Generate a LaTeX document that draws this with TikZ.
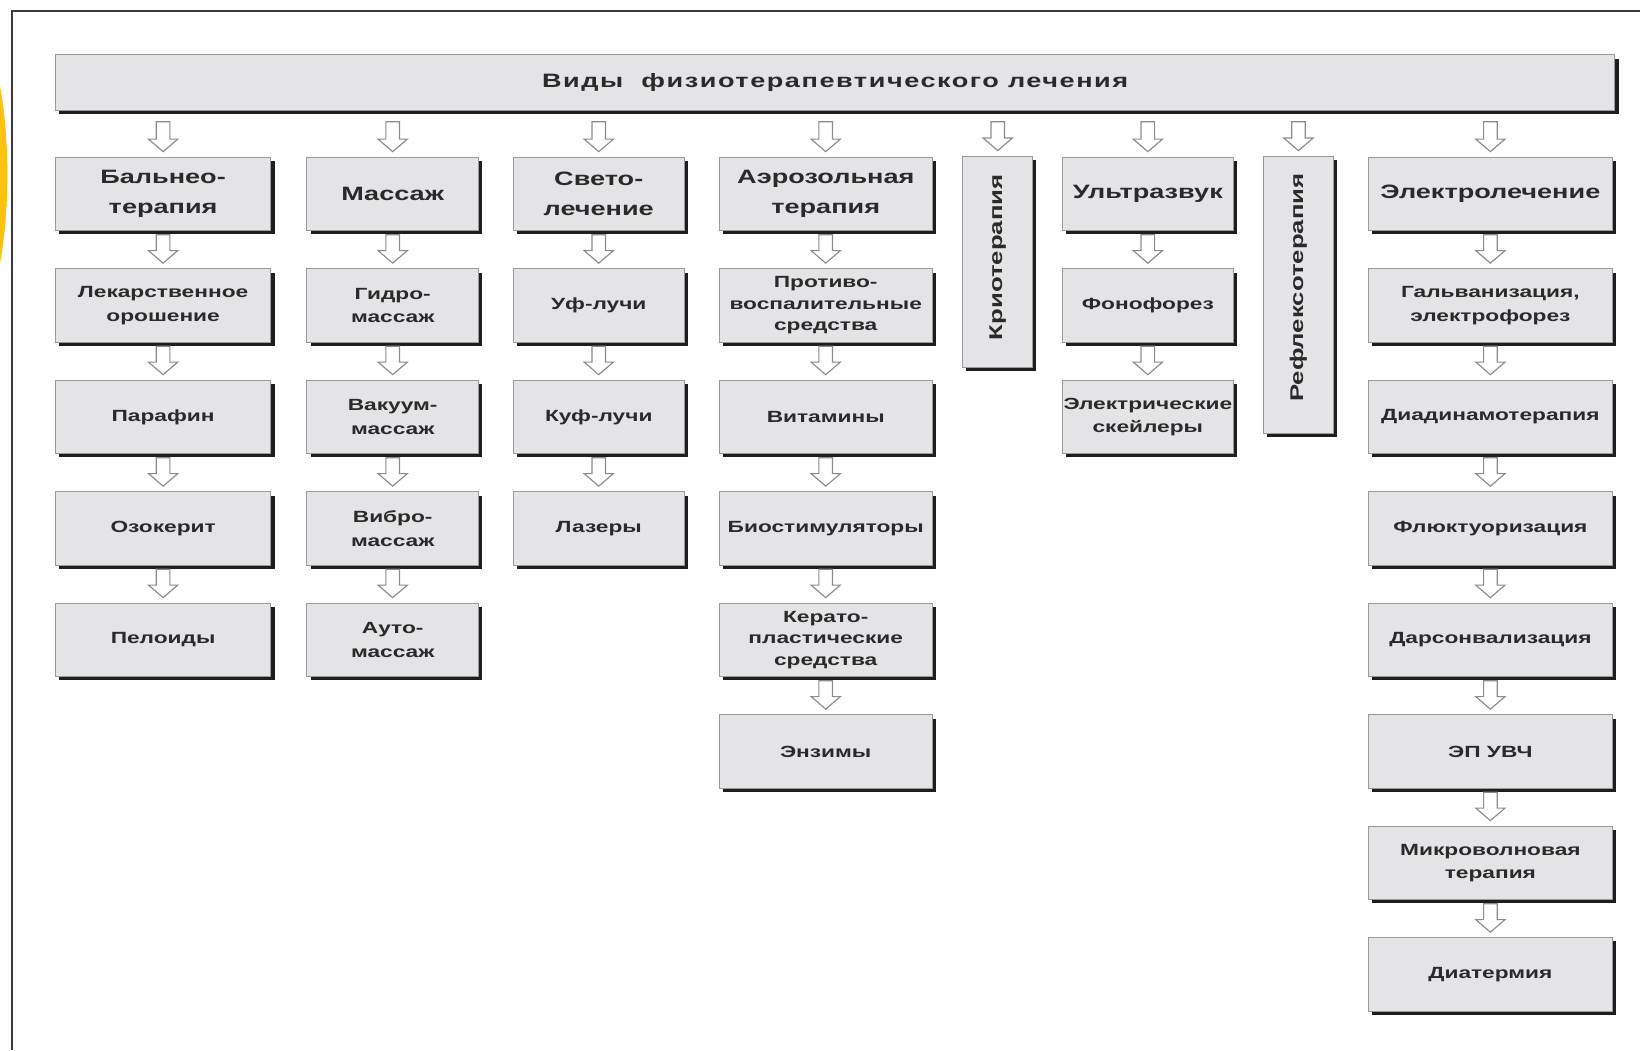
\documentclass[tikz,border=0pt]{standalone}
\usepackage{fontspec}
\setmainfont{Liberation Sans}[FakeStretch=1.4]
\usetikzlibrary{calc,shadows}
\definecolor{boxfill}{HTML}{E4E4E6}
\definecolor{boxline}{HTML}{9A9A9A}
\definecolor{shad}{HTML}{1E1E1E}
\definecolor{txt}{HTML}{2A2A2A}
\definecolor{arrline}{HTML}{8C8C8C}
\definecolor{framecol}{HTML}{3A3A3A}
\definecolor{gold}{HTML}{FFC20E}
\newcommand\lone{\fontsize{18.5}{28}\selectfont\bfseries}
\newcommand\lvert{\fontsize{17.6}{20}\selectfont\bfseries}
\newcommand\ltwo{\fontsize{15.5}{22.5}\selectfont\bfseries}
\newcommand\lthree{\fontsize{15.5}{20.5}\selectfont\bfseries}
\newcommand\lhead{\fontsize{18.5}{22}\selectfont\bfseries\addfontfeature{LetterSpace=8}}
% block arrow: [top gap]{from}{to}
\newcommand\barrow[3][3.5]{%
  \path[draw=arrline, fill=white, line width=1.1pt, line join=miter]
    let \p1=(#3.north), \p2=(#2.south) in
    (\x1-6.5pt,\y2-#1pt) -- (\x1+6.5pt,\y2-#1pt) -- (\x1+6.5pt,\y1+17pt)
    -- (\x1+14pt,\y1+17pt) -- (\x1,\y1+5pt) -- (\x1-14pt,\y1+17pt)
    -- (\x1-6.5pt,\y1+17pt) -- cycle;}
\begin{document}
\begin{tikzpicture}[x=1pt,y=1pt,
  box/.style={draw=boxline, line width=0.9pt, fill=boxfill, inner sep=0pt,
    align=center, text=txt, anchor=north west, minimum height=70pt,
    drop shadow={opacity=1, fill=shad, shadow xshift=3.5pt, shadow yshift=-3.5pt}},
  topbox/.style={box, font=\lone},
  subbox/.style={box, font=\ltwo},
  subthree/.style={box, font=\lthree}]
\useasboundingbox (0,0) rectangle (1568,-1004);
\fill[white] (0,0) rectangle (1568,-1004);
\fill[gold] (-22,-167) ellipse [x radius=29, y radius=130];
\draw[framecol, line width=2pt] (11.5,-1004) -- (11.5,-10.5) -- (1568,-10.5);

% header
\node[box, minimum width=1491pt, minimum height=53pt, font=\lhead] (h) at (52.5,-52) {Виды\ \ физиотерапевтического лечения};

% column 1
\node[topbox, minimum width=206pt] (a1) at (52.5,-150) {Бальнео-\\терапия};
\node[subbox, minimum width=206pt] (a2) at (52.5,-256.6) {Лекарственное\\орошение};
\node[subbox, minimum width=206pt] (a3) at (52.5,-363.2) {Парафин};
\node[subbox, minimum width=206pt] (a4) at (52.5,-469.8) {Озокерит};
\node[subbox, minimum width=206pt] (a5) at (52.5,-576.4) {Пелоиды};
% column 2
\node[topbox, minimum width=164pt] (b1) at (293,-150) {Массаж};
\node[subbox, minimum width=164pt] (b2) at (293,-256.6) {Гидро-\\массаж};
\node[subbox, minimum width=164pt] (b3) at (293,-363.2) {Вакуум-\\массаж};
\node[subbox, minimum width=164pt] (b4) at (293,-469.8) {Вибро-\\массаж};
\node[subbox, minimum width=164pt] (b5) at (293,-576.4) {Ауто-\\массаж};
% column 3
\node[topbox, minimum width=164pt] (c1) at (490,-150) {Свето-\\лечение};
\node[subbox, minimum width=164pt] (c2) at (490,-256.6) {Уф-лучи};
\node[subbox, minimum width=164pt] (c3) at (490,-363.2) {Куф-лучи};
\node[subbox, minimum width=164pt] (c4) at (490,-469.8) {Лазеры};
% column 4
\node[topbox, minimum width=204pt] (d1) at (687,-150) {Аэрозольная\\терапия};
\node[subthree, minimum width=204pt] (d2) at (687,-256.6) {Противо-\\воспалительные\\средства};
\node[subbox, minimum width=204pt] (d3) at (687,-363.2) {Витамины};
\node[subbox, minimum width=204pt] (d4) at (687,-469.8) {Биостимуляторы};
\node[subthree, minimum width=204pt] (d5) at (687,-576.4) {Керато-\\пластические\\средства};
\node[subbox, minimum width=204pt] (d6) at (687,-683) {Энзимы};
% column 5
\node[box, minimum width=67pt, minimum height=202pt] (e1) at (920,-149) {\rotatebox{90}{\lvert\hspace*{9pt}Криотерапия}};
% column 6
\node[topbox, minimum width=164pt] (f1) at (1015,-150) {Ультразвук};
\node[subbox, minimum width=164pt] (f2) at (1015,-256.6) {Фонофорез};
\node[subbox, minimum width=164pt] (f3) at (1015,-363.2) {Электрические\\скейлеры};
% column 7
\node[box, minimum width=67pt, minimum height=265pt] (g1) at (1207.5,-149) {\rotatebox{90}{\lvert\hspace*{14pt}Рефлексотерапия}};
% column 8
\node[topbox, minimum width=233pt] (k1) at (1308,-150) {Электролечение};
\node[subbox, minimum width=233pt] (k2) at (1308,-256.6) {Гальванизация,\\электрофорез};
\node[subbox, minimum width=233pt] (k3) at (1308,-363.2) {Диадинамотерапия};
\node[subbox, minimum width=233pt] (k4) at (1308,-469.8) {Флюктуоризация};
\node[subbox, minimum width=233pt] (k5) at (1308,-576.4) {Дарсонвализация};
\node[subbox, minimum width=233pt] (k6) at (1308,-683) {ЭП УВЧ};
\node[subbox, minimum width=233pt] (k7) at (1308,-789.6) {Микроволновая\\терапия};
\node[subbox, minimum width=233pt] (k8) at (1308,-896.2) {Диатермия};

% arrows from header
\foreach \t in {a1,b1,c1,d1,e1,f1,g1,k1} {\barrow[10.5]{h}{\t}}
% arrows within columns
\barrow{a1}{a2}\barrow{a2}{a3}\barrow{a3}{a4}\barrow{a4}{a5}
\barrow{b1}{b2}\barrow{b2}{b3}\barrow{b3}{b4}\barrow{b4}{b5}
\barrow{c1}{c2}\barrow{c2}{c3}\barrow{c3}{c4}
\barrow{d1}{d2}\barrow{d2}{d3}\barrow{d3}{d4}\barrow{d4}{d5}\barrow{d5}{d6}
\barrow{f1}{f2}\barrow{f2}{f3}
\barrow{k1}{k2}\barrow{k2}{k3}\barrow{k3}{k4}\barrow{k4}{k5}\barrow{k5}{k6}\barrow{k6}{k7}\barrow{k7}{k8}
\end{tikzpicture}
\end{document}
